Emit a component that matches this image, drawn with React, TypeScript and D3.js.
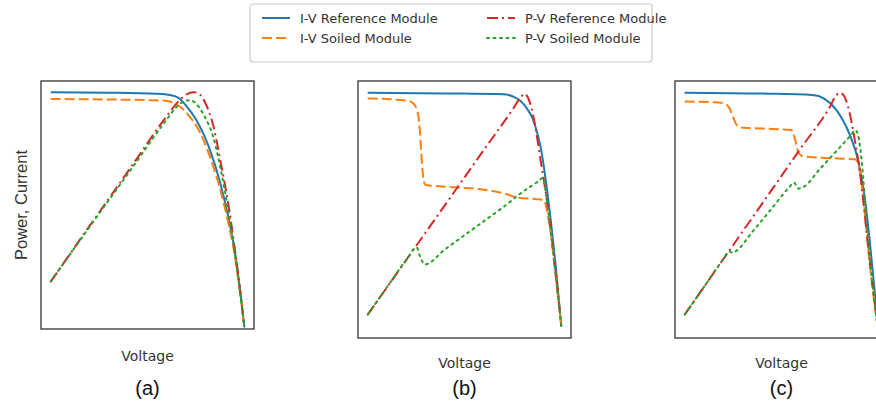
import React from 'react';
import * as d3 from 'd3';

type Pt = [number, number];

// normalised voltage (0-100) vs normalised power / current (0-100)
// panel (a)
const ivRefA: Pt[] = [[0, 100], [30, 99.8], [55, 99.3], [62, 98.7], [66, 97.5], [70, 94], [75, 88], [82, 75], [87.5, 60], [91.5, 45.5], [95, 30], [98, 11], [100, -4]];
const ivSoilA: Pt[] = [[0, 97], [30, 96.8], [58, 96.3], [63, 95.5], [67, 93.5], [71, 90], [76, 84], [82, 72], [87.5, 57], [91.5, 43], [95, 28], [98, 10], [100, -4]];
const pvRefA: Pt[] = [[0, 16], [20, 40.6], [40, 65], [60, 89.5], [66, 96], [70, 99], [74, 100], [77, 99], [80, 95], [84, 85], [88, 68], [92, 49], [95, 31], [98, 11], [100, -4]];
const pvSoilA: Pt[] = [[0, 16], [20, 40.2], [40, 64], [60, 88], [65, 93.5], [69, 96], [72, 96.5], [75, 95], [79, 90], [84, 80], [88, 65], [92, 46], [95, 29], [98, 10], [100, -4]];

// panel (b)
const ivRefB: Pt[] = [[0, 100], [40, 99.7], [70, 99.3], [76, 98], [79, 96.4], [82, 93.5], [85, 89.3], [87.5, 83], [89.4, 76.4], [92, 62.3], [94.6, 45], [97.2, 25], [100, 0]];
const ivSoilB: Pt[] = [[0, 97.5], [15, 97], [21, 96.5], [24, 95], [26, 91], [27, 83], [28, 70], [29, 62], [30, 60.5], [45, 59.5], [60, 58.5], [70, 57], [78, 55], [86, 54.5], [91, 54], [92.5, 50], [94.5, 40], [97, 22], [100, 0]];
const pvRefB: Pt[] = [[0, 5], [20, 28.5], [40, 52], [60, 75.5], [75, 93], [79, 98], [81, 99.5], [83, 97.5], [86, 88], [89.5, 70], [92, 57], [94.6, 41], [97.5, 20], [100, 0]];
const pvSoilB: Pt[] = [[0, 5], [10, 16.8], [20, 28.5], [25.3, 33.8], [27, 30], [29.5, 26.5], [40, 33], [50, 39], [60, 45], [70, 51], [80, 57.5], [88, 62], [90.5, 63.5], [92, 57], [94.6, 40], [97.5, 19], [100, 0]];

// panel (c)
const ivRefC: Pt[] = [[0, 100], [40, 99.6], [66, 99], [72, 97.5], [78, 93], [85, 82.5], [90, 69.5], [93, 55], [95.5, 37], [98, 16], [100, -2.5]];
const ivSoilC: Pt[] = [[0, 96.2], [12, 96], [20, 95.5], [23, 93.5], [25, 89.5], [27, 86], [30, 85], [45, 84.5], [55, 84], [57, 80], [58.5, 75], [61, 72.8], [70, 72.2], [80, 71.8], [88, 71.5], [90, 68], [92.5, 53], [95, 31], [97.5, 13], [100, -2.5]];
const pvRefC: Pt[] = [[0, 5], [20, 28.8], [40, 52.5], [60, 76.3], [75, 94], [78, 98.5], [80, 100], [82, 99], [85, 92], [88, 79], [90.5, 66], [93.5, 44], [97, 18], [100, -2.5]];
const pvSoilC: Pt[] = [[0, 5], [10, 16.9], [20, 28.8], [23, 32], [25, 31.5], [27, 32.5], [35, 40.5], [45, 50.5], [54, 59.5], [56.5, 61.5], [58.5, 59], [61, 59.5], [70, 67.5], [80, 76.5], [86, 82], [88, 84], [89.5, 82], [91.5, 70], [94, 44], [97, 18], [100, -2.5]];

const seriesNames = ['I-V Reference Module', 'I-V Soiled Module', 'P-V Reference Module', 'P-V Soiled Module'];
const panelLabels = ['(a)', '(b)', '(c)'];

const styles = [
  { color: '#1f77b4', dash: 'none' },
  { color: '#ff7f0e', dash: '10,4' },
  { color: '#d62728', dash: '11,4,2,4' },
  { color: '#2ca02c', dash: '2,4.5' },
];

const panels = [
  { data: [ivRefA, ivSoilA, pvRefA, pvSoilA], left: 41, top: 81, right: 254, bottom: 329, labelY: 361 },
  { data: [ivRefB, ivSoilB, pvRefB, pvSoilB], left: 358, top: 81, right: 571, bottom: 338, labelY: 368 },
  { data: [ivRefC, ivSoilC, pvRefC, pvSoilC], left: 675, top: 81, right: 888, bottom: 338, labelY: 368 },
];

const Panel = ({ p, label, idx }: any) => {
  const x = d3.scaleLinear().domain([-5, 105]).range([p.left, p.right]);
  const y = d3.scaleLinear().domain([-5, 105]).range([p.bottom, p.top]);
  const line = d3.line<Pt>().x(d => x(d[0])).y(d => y(d[1])).curve(d3.curveMonotoneX);
  const cx = (p.left + p.right) / 2;
  return (
    <g>
      {p.data.map((s: Pt[], i: number) => (
        <path key={i} d={line(s) || ''} fill="none" stroke={styles[i].color} strokeWidth={2}
          strokeDasharray={styles[i].dash} strokeLinecap={i === 3 ? 'round' : 'butt'} />
      ))}
      <rect x={p.left} y={p.top} width={p.right - p.left} height={p.bottom - p.top} fill="none" stroke="#333" strokeWidth={1.3} />
      <text x={cx} y={p.labelY} textAnchor="middle" fontFamily="DejaVu Sans" fontSize={14} fill="#333">Voltage</text>
      <text x={cx} y={395} textAnchor="middle" fontFamily="Liberation Sans" fontSize={20} fill="#111">{label}</text>
      {idx === 0 && (
        <text transform={`translate(${p.left - 14},${(p.top + p.bottom) / 2}) rotate(-90)`} textAnchor="middle"
          fontFamily="Liberation Sans" fontSize={16.5} fill="#333">Power, Current</text>
      )}
    </g>
  );
};

const Legend = () => {
  const cols = [262, 487];
  const rows = [18, 38];
  return (
    <g>
      <rect x={250} y={4} width={402} height={58} rx={3} fill="#fff" stroke="#ccc" strokeWidth={1.2} />
      {seriesNames.map((n, i) => {
        const c = cols[Math.floor(i / 2)];
        const r = rows[i % 2];
        return (
          <g key={n}>
            <line x1={c} x2={c + 28} y1={r} y2={r} stroke={styles[i].color} strokeWidth={2}
              strokeDasharray={styles[i].dash} strokeLinecap={i === 3 ? 'round' : 'butt'} />
            <text x={c + 38} y={r + 5} fontFamily="DejaVu Sans" fontSize={13} fill="#333">{n}</text>
          </g>
        );
      })}
    </g>
  );
};

export default function App() {
  return (
    <svg width={876} height={408} style={{ position: 'absolute', left: 0, top: 0, background: '#fff' }}>
      {panels.map((p, i) => <Panel key={i} p={p} label={panelLabels[i]} idx={i} />)}
      <Legend />
    </svg>
  );
}
